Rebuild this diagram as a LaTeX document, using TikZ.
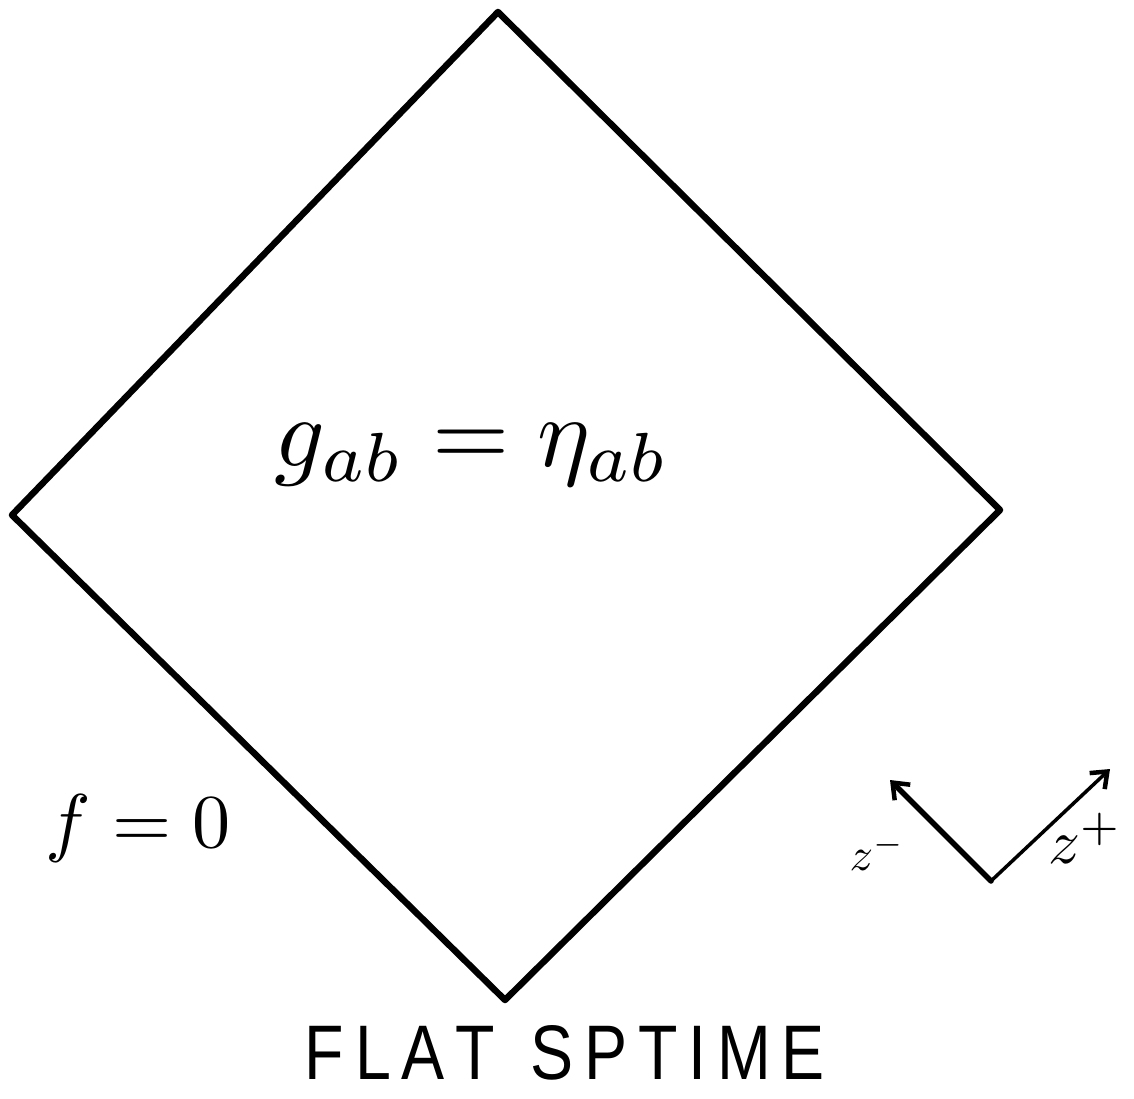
\documentclass[tikz,border=0pt]{standalone}
\usepackage{fontspec}
\usepackage{graphicx}
\setmainfont{Liberation Sans}
\usetikzlibrary{arrows.meta}
\begin{document}
\begin{tikzpicture}[x=1pt,y=-1pt,
  edge/.style={line width=6.5pt,line join=round,line cap=round},
  axis/.style={line width=5.5pt,line cap=round,-{Straight Barb[length=14pt,width=22pt,line width=4.5pt]}},
  lbl/.style={inner sep=0pt,anchor=center}]
\useasboundingbox (0,0) rectangle (1134,1099);
\coordinate (T) at (498,12);
\coordinate (R) at (1000,510);
\coordinate (B) at (505,1000);
\coordinate (L) at (12,515);
\draw[edge] (T) -- (R) -- (B) -- (L) -- cycle;
\node[lbl] (metric) at (472,455) {\resizebox{395pt}{!}{$g_{ab} = \eta_{ab}$}};
\node[lbl] (fzero) at (138,828) {\resizebox{185pt}{!}{$f = 0$}};
\node[lbl] (title) at (565,1053) {\resizebox{520pt}{54pt}{F\,L\,A\,T\ \ S\,P\,T\,I\,M\,E}};
\coordinate (O) at (991,881);
\coordinate (zmtip) at (890,780);
\coordinate (zptip) at (1110,769);
\draw[axis] (O) -- (zmtip);
\draw[axis,line width=3.5pt] (O) -- (zptip);
\node[lbl] (zm) at (877,852) {\resizebox{55pt}{!}{$z^{-}$}};
\node[lbl] (zp) at (1085,838) {\resizebox{74pt}{!}{$z^{+}$}};
\end{tikzpicture}
\end{document}
